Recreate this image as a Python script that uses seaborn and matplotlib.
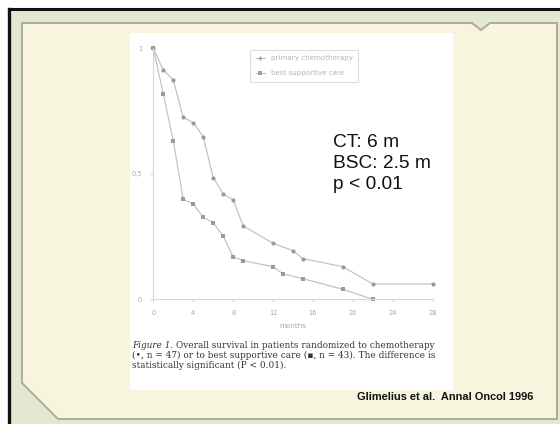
import numpy as np
import pandas as pd
import matplotlib
matplotlib.use("Agg")
import matplotlib.pyplot as plt
from matplotlib.patches import Polygon, Rectangle
from matplotlib.lines import Line2D
import seaborn as sns

# ---- data ----
ct_months = [0, 1, 2, 3, 4, 5, 6, 7, 8, 9, 12, 14, 15, 19, 22, 28]
ct_surv = [1.0, 0.914, 0.874, 0.725, 0.704, 0.648, 0.485, 0.420, 0.396, 0.293,
           0.223, 0.194, 0.162, 0.130, 0.061, 0.061]
bsc_months = [0, 1, 2, 3, 4, 5, 6, 7, 8, 9, 12, 13, 15, 19, 22]
bsc_surv = [1.0, 0.818, 0.632, 0.398, 0.380, 0.327, 0.305, 0.252, 0.170, 0.154,
            0.130, 0.101, 0.082, 0.040, 0.0]
series_names = ["primary chemotherapy", "best supportive care"]
x_ticks = [0, 4, 8, 12, 16, 20, 24, 28]
y_ticks = [0, 0.5, 1]
y_ticklabels = ["0", "0,5", "1"]
x_label = "months"
annotation = "CT: 6 m\nBSC: 2.5 m\np < 0.01"
caption_lines = [
    "Overall survival in patients randomized to chemotherapy",
    "(\u2022, n = 47) or to best supportive care (\u25aa, n = 43). The difference is",
    "statistically significant (P < 0.01).",
]
caption_head = "Figure 1."
citation = "Glimelius et al.  Annal Oncol 1996"

df = pd.concat([
    pd.DataFrame({"month": ct_months, "surv": ct_surv, "group": series_names[0]}),
    pd.DataFrame({"month": bsc_months, "surv": bsc_surv, "group": series_names[1]}),
], ignore_index=True)

W, H = 560, 424
fig = plt.figure(figsize=(W / 100, H / 100), dpi=100)
fig.patch.set_facecolor("#e3e9d0")

def px(x, y):
    return (x / W, 1 - y / H)

tf = fig.transFigure
# black frame (top and left)
fig.add_artist(Rectangle(px(0, 424), 9 / W, 424 / H, transform=tf, color="#ffffff", lw=0))
fig.add_artist(Rectangle(px(0, 9), 1, 9 / H, transform=tf, color="#ffffff", lw=0))
fig.add_artist(Line2D([px(9, 0)[0], 1], [px(0, 9)[1]] * 2, transform=tf, color="#111111", lw=2.2))
fig.add_artist(Line2D([px(9, 0)[0]] * 2, [px(0, 9)[1], 0], transform=tf, color="#111111", lw=2.4))

# inner cream panel with notch and chamfer
pts = [(22, 23), (472, 23), (481, 30), (490, 23), (557, 23), (557, 419),
       (58, 419), (22, 383)]
fig.add_artist(Polygon([px(*p) for p in pts], closed=True, transform=tf,
                       facecolor="#f8f5de", edgecolor="#b3aa94", lw=1.4))

# white image region
fig.add_artist(Rectangle(px(130, 390), (453 - 130) / W, (390 - 33) / H,
                         transform=tf, facecolor="white", edgecolor="none"))

# chart axes
ax = fig.add_axes([153.3 / W, 1 - 299.3 / H, (432.7 - 153.3) / W, (299.3 - 48.3) / H])
ax.set_zorder(5)
ax.set_facecolor("none")
sns.lineplot(data=df, x="month", y="surv", hue="group", style="group",
             markers={series_names[0]: "o", series_names[1]: "s"}, dashes=False,
             palette={series_names[0]: "#c4c4c4", series_names[1]: "#c4c4c4"},
             markersize=3.0, markeredgewidth=0, lw=0.9, legend=False, ax=ax,
             clip_on=False, sort=False)
for ln in ax.lines:
    ln.set_markerfacecolor("#9a9a9a")

ax.set_xlim(0, 28)
ax.set_ylim(0, 1)
ax.set_xticks(x_ticks)
ax.set_xticklabels([str(t) for t in x_ticks])
ax.set_yticks(y_ticks)
ax.set_yticklabels(y_ticklabels)
ax.tick_params(colors="#d0d0d0", labelcolor="#a8a8a8", labelsize=4.8, length=2, width=0.6, pad=6)
for s in ["top", "right"]:
    ax.spines[s].set_visible(False)
for s in ["left", "bottom"]:
    ax.spines[s].set_color("#d6d6d6")
    ax.spines[s].set_linewidth(0.8)
ax.set_xlabel(x_label, color="#a8a8a8", fontsize=5.2, labelpad=5)
ax.set_ylabel("")

handles = [
    Line2D([], [], color="#c4c4c4", lw=0.8, marker="+", markersize=3, markeredgecolor="#a0a0a0"),
    Line2D([], [], color="#c4c4c4", lw=0.8, marker="s", markersize=2.5, markerfacecolor="#a0a0a0",
           markeredgewidth=0),
]
leg = ax.legend(handles, series_names, loc="upper left", bbox_to_anchor=(0.346, 0.995),
                fontsize=5.1, frameon=True, fancybox=False, handlelength=1.3,
                borderpad=0.8, labelspacing=1.25, handletextpad=0.8, borderaxespad=0)
leg.get_frame().set_edgecolor("#d4d4d4")
leg.get_frame().set_linewidth(0.8)
for t in leg.get_texts():
    t.set_color("#b4b4b4")

# annotation
fig.text(333 / W, 1 - 134 / H, annotation, fontsize=13.8, color="#111111",
         family="Liberation Sans", va="top", ha="left", linespacing=1.32, zorder=10)

# caption (fit line 2 to the reference width of ~303 px)
fig.canvas.draw()
renderer = fig.canvas.get_renderer()
cfam = "DejaVu Serif"
probe = fig.text(0, 0, caption_lines[1], fontsize=7, family=cfam)
w7 = probe.get_window_extent(renderer).width
probe.remove()
cfs = 7 * 303 / w7
cy = [346, 355.5, 365]
head = fig.text(132 / W, 1 - cy[0] / H, caption_head, fontsize=cfs, style="italic",
                family=cfam, color="#333333", va="center", zorder=10)
hw = head.get_window_extent(renderer).width
fig.text((132 + hw + 3) / W, 1 - cy[0] / H, caption_lines[0], fontsize=cfs,
         family=cfam, color="#333333", va="center", zorder=10)
fig.text(132 / W, 1 - cy[1] / H, caption_lines[1], fontsize=cfs,
         family=cfam, color="#333333", va="center", zorder=10)
fig.text(132 / W, 1 - cy[2] / H, caption_lines[2], fontsize=cfs,
         family=cfam, color="#333333", va="center", zorder=10)

# citation
fig.text(533 / W, 1 - 397 / H, citation, fontsize=7.9, weight="bold",
         family="Liberation Sans", color="#111111", ha="right", va="center", zorder=10)

fig.savefig("out.png", dpi=100, facecolor=fig.get_facecolor())
